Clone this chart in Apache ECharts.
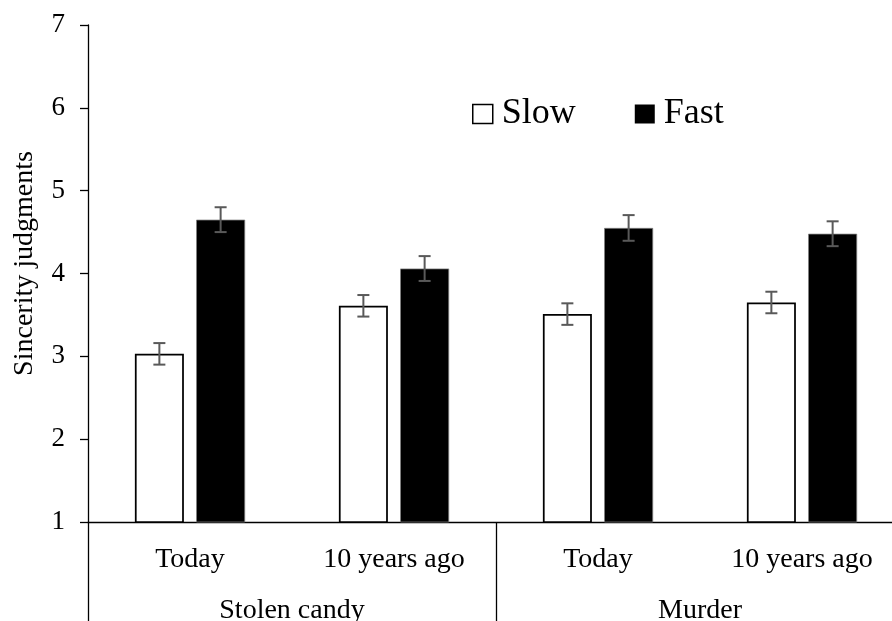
<!DOCTYPE html>
<html>
<head>
<meta charset="utf-8">
<script src="https://cdn.jsdelivr.net/npm/echarts@6/dist/echarts.min.js"></script>
<style>
html,body{margin:0;padding:0;background:#fff;}
#chart{width:892px;height:621px;}
</style>
</head>
<body>
<div id="chart"></div>
<script>
var conditions = ['Today', '10 years ago', 'Today', '10 years ago'];
var scenarios = ['Stolen candy', 'Murder'];
var seriesNames = ['Slow', 'Fast'];
var slowValues = [3.03, 3.61, 3.51, 3.65];
var fastValues = [4.65, 4.06, 4.55, 4.48];
var slowErrors = [0.13, 0.13, 0.13, 0.13];
var fastErrors = [0.15, 0.15, 0.155, 0.15];
var yTicks = [1, 2, 3, 4, 5, 6, 7];

var FONT = 'Liberation Serif';
var BAR_W = 49;
var BAR_GAP = 0.25;
var OFFSET = BAR_W * (1 + BAR_GAP) / 2;

function errData(vals, errs) {
  return vals.map(function (v, i) { return [i, v, errs[i]]; });
}

function errRender(sign) {
  return function (params, api) {
    var i = api.value(0), v = api.value(1), e = api.value(2);
    var top = api.coord([i, v + e]);
    var bot = api.coord([i, v - e]);
    var x = top[0] + sign * OFFSET;
    var cap = 6;
    var st = { stroke: '#595959', lineWidth: 2 };
    return {
      type: 'group',
      children: [
        { type: 'line', shape: { x1: x, y1: top[1], x2: x, y2: bot[1] }, style: st },
        { type: 'line', shape: { x1: x - cap, y1: top[1], x2: x + cap, y2: top[1] }, style: st },
        { type: 'line', shape: { x1: x - cap, y1: bot[1], x2: x + cap, y2: bot[1] }, style: st }
      ]
    };
  };
}

var chart = echarts.init(document.getElementById('chart'), null, { renderer: 'canvas' });
chart.setOption({
  animation: false,
  backgroundColor: '#ffffff',
  textStyle: { fontFamily: FONT },
  grid: { left: 88, top: 25, width: 816, bottom: 99, containLabel: false, outerBoundsMode: 'none' },
  legend: {
    data: [
      { name: seriesNames[0], itemStyle: { color: '#fff', borderColor: '#000', borderWidth: 1.5 } },
      { name: seriesNames[1], itemStyle: { color: '#000', borderWidth: 0 } }
    ],
    left: 472, top: 96, padding: 0,
    icon: 'rect', itemWidth: 20, itemHeight: 19, itemGap: 59,
    textStyle: { fontFamily: FONT, fontSize: 36, color: '#000', padding: [0, 0, 0, 4] }
  },
  xAxis: [
    {
      type: 'category',
      data: conditions,
      position: 'bottom',
      axisLine: { show: true, lineStyle: { color: '#000', width: 1.3 } },
      axisTick: { show: false },
      axisLabel: { fontFamily: FONT, fontSize: 28, color: '#000', margin: 24, verticalAlign: 'top' },
      splitLine: { show: false }
    },
    {
      type: 'category',
      data: scenarios,
      position: 'bottom',
      axisLine: { show: false },
      axisTick: { show: true, length: 110, lineStyle: { color: '#000', width: 1.3 } },
      axisLabel: { fontFamily: FONT, fontSize: 28, color: '#000', margin: 75, verticalAlign: 'top' },
      splitLine: { show: false }
    }
  ],
  yAxis: {
    type: 'value',
    min: yTicks[0], max: yTicks[yTicks.length - 1], interval: 1,
    name: 'Sincerity judgments',
    nameLocation: 'middle',
    nameGap: 49,
    nameTextStyle: { fontFamily: FONT, fontSize: 28, color: '#000', padding: [0, 0, 0, 20] },
    axisLine: { show: true, lineStyle: { color: '#000', width: 1.3 } },
    axisTick: { show: true, inside: false, length: 8, lineStyle: { color: '#000', width: 1.3 } },
    axisLabel: { fontFamily: FONT, fontSize: 27, color: '#000', margin: 23 },
    splitLine: { show: false }
  },
  series: [
    {
      name: seriesNames[0], type: 'bar', xAxisIndex: 0,
      data: slowValues, barWidth: BAR_W, barGap: (BAR_GAP * 100) + '%',
      itemStyle: { color: '#ffffff', borderColor: '#000', borderWidth: 1.75 }
    },
    {
      name: seriesNames[1], type: 'bar', xAxisIndex: 0,
      data: fastValues, barWidth: BAR_W, barGap: (BAR_GAP * 100) + '%',
      itemStyle: { color: '#000000', borderColor: '#808080', borderWidth: 0.75 }
    },
    {
      type: 'custom', xAxisIndex: 0, z: 5,
      renderItem: errRender(-1), data: errData(slowValues, slowErrors),
      encode: { x: 0, y: 1 }
    },
    {
      type: 'custom', xAxisIndex: 0, z: 5,
      renderItem: errRender(1), data: errData(fastValues, fastErrors),
      encode: { x: 0, y: 1 }
    }
  ]
});
</script>
</body>
</html>
